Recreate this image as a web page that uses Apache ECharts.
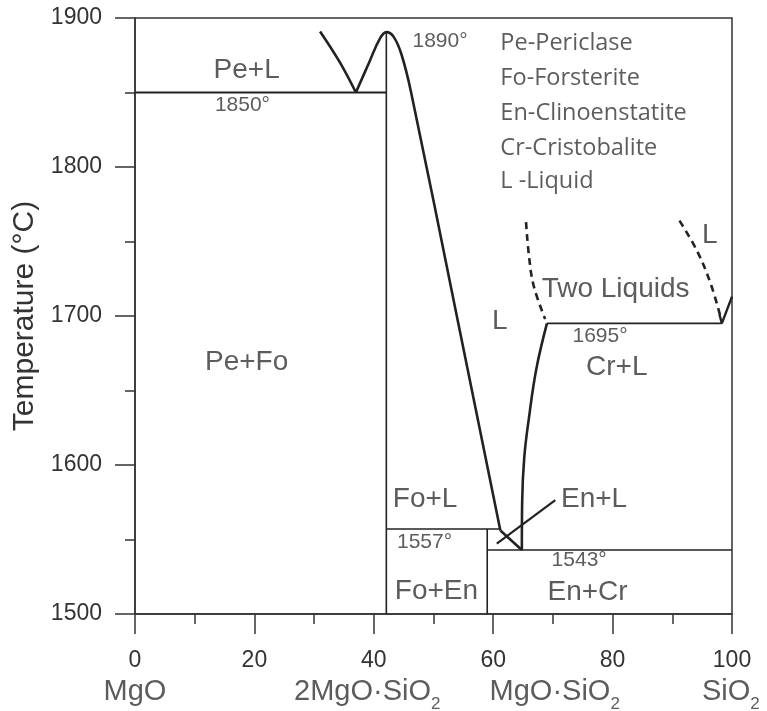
<!DOCTYPE html>
<html>
<head>
<meta charset="utf-8">
<script src="https://cdn.jsdelivr.net/npm/echarts@6/dist/echarts.min.js"></script>
<style>
    html, body { margin: 0; padding: 0; background: #fff; }
    #chart { width: 767px; height: 711px; }
</style>
</head>
<body>
<div id="chart"></div>
<script>
// phase boundaries, [wt% SiO2, temperature]
var peLiquidus = [[31, 1891], [34.2, 1871], [37, 1850]];
var foLiquidus = [[37, 1850], [39.2, 1870], [41, 1886], [42.1, 1890.5], [43.3, 1887.5],
    [44.6, 1876], [46.2, 1851], [53.7, 1704], [61.2, 1556]];
var enLiquidus = [[61.2, 1556], [64.8, 1543]];
var crLiquidus = [[64.8, 1543], [64.85, 1575], [65.2, 1605], [66, 1632], [67.2, 1664], [69, 1695]];
var crLiquidusHigh = [[97.9, 1701], [98.3, 1695], [100, 1713]];
var twoLiqLeft = [[65.5, 1763], [66, 1740], [66.8, 1720], [68.7, 1698]];
var twoLiqRight = [[91.2, 1764], [94.1, 1744], [96.4, 1722], [98.1, 1699]];

var line1850 = [[0, 1850], [42.1, 1850]];
var foVertical = [[42.1, 1500], [42.1, 1890.5]];
var line1557 = [[42.1, 1557], [61.2, 1557]];
var enVertical = [[59, 1500], [59, 1557]];
var line1543 = [[59, 1543], [100, 1543]];
var line1695 = [[69, 1695], [98.3, 1695]];
var enLPointer = [[60.6, 1547.3], [70.4, 1576.5]];

// text annotations
var regionNames = ['Pe+L', 'Pe+Fo', 'L', 'L', 'Two Liquids', 'Cr+L', 'Fo+L', 'En+L', 'Fo+En', 'En+Cr'];
var regionX = [18.7, 18.7, 61.1, 96.3, 80.5, 80.7, 48.6, 76.9, 50.5, 75.8];
var regionY = [1865, 1669, 1696.7, 1754, 1717.8, 1665.7, 1577, 1577, 1515.5, 1514.4];

var tempNames = ['1850°', '1890°', '1695°', '1557°', '1543°'];
var tempX = [18, 51.1, 77.9, 48.5, 74.4];
var tempY = [1841.7, 1884.3, 1686.4, 1548, 1536.2];

var keyNames = ['Pe-Periclase', 'Fo-Forsterite', 'En-Clinoenstatite', 'Cr-Cristobalite', 'L -Liquid'];
var keyX = 61.2;
var keyY = [1883, 1859.2, 1836.1, 1812.5, 1790.1];

var compNames = ['{m|MgO}', '{m|2MgO·SiO}{s|2}', '{m|MgO·SiO}{s|2}', '{m|SiO}{s|2}'];
var compX = [0, 38.9, 70.3, 99.8];

var FONT = 'Liberation Sans';
var INK = '#222';
var TXT = '#333';

function boundary(data, width, dashed, smooth) {
    return {
        type: 'line',
        data: data,
        symbol: 'none',
        smooth: smooth ? 0.4 : false,
        lineStyle: { color: INK, width: width, type: dashed ? [7, 5] : 'solid' },
        silent: true,
        z: 3
    };
}

function textSeries(names, xs, ys, size, align, family) {
    var data = [];
    for (var i = 0; i < names.length; i++) {
        data.push({ name: names[i], value: [Array.isArray(xs) ? xs[i] : xs, ys[i]] });
    }
    return {
        type: 'scatter',
        data: data,
        symbolSize: 0,
        silent: true,
        z: 5,
        label: {
            show: true,
            position: 'inside',
            formatter: '{b}',
            fontSize: size,
            fontFamily: family || FONT,
            color: TXT,
            align: align || 'center',
            verticalAlign: 'middle'
        }
    };
}

var compData = [];
for (var i = 0; i < compNames.length; i++) {
    compData.push({ name: compNames[i], value: [compX[i], 1500] });
}

var chart = echarts.init(document.getElementById('chart'));
chart.setOption({
    animation: false,
    grid: {
        left: 135, right: 35, top: 18, bottom: 97,
        show: true, borderColor: '#333', borderWidth: 1.5
    },
    xAxis: {
        type: 'value', min: 0, max: 100, interval: 20,
        axisLine: { lineStyle: { color: '#333', width: 1.5 } },
        axisTick: { show: true, length: 20, lineStyle: { color: '#333', width: 1.5 } },
        minorTick: { show: true, splitNumber: 2, length: 10, lineStyle: { color: '#333', width: 1.5 } },
        axisLabel: { margin: 35, fontSize: 23, fontFamily: FONT, color: TXT },
        splitLine: { show: false }
    },
    yAxis: {
        type: 'value', min: 1500, max: 1900, interval: 100,
        name: 'Temperature (°C)', nameLocation: 'middle', nameGap: 87,
        nameTextStyle: { fontSize: 30, fontFamily: FONT, color: TXT },
        axisLine: { lineStyle: { color: '#333', width: 1.5 } },
        axisTick: { show: true, length: 20, lineStyle: { color: '#333', width: 1.5 } },
        minorTick: { show: true, splitNumber: 2, length: 10, lineStyle: { color: '#333', width: 1.5 } },
        axisLabel: {
            margin: 33, fontSize: 23, fontFamily: FONT, color: TXT,
            formatter: function (v) { return String(v); }
        },
        splitLine: { show: false }
    },
    series: [
        boundary(peLiquidus, 2.6, false, true),
        boundary(foLiquidus, 2.6, false, true),
        boundary(enLiquidus, 2.6, false, false),
        boundary(crLiquidus, 2.6, false, true),
        boundary(crLiquidusHigh, 2.4, false, false),
        boundary(twoLiqLeft, 2.6, true, true),
        boundary(twoLiqRight, 2.6, true, true),
        boundary(line1850, 1.8),
        boundary(foVertical, 1.6),
        boundary(line1557, 1.6),
        boundary(enVertical, 1.6),
        boundary(line1543, 1.6),
        boundary(line1695, 1.8),
        boundary(enLPointer, 2.2),
        textSeries(regionNames, regionX, regionY, 28),
        textSeries(tempNames, tempX, tempY, 21),
        textSeries(keyNames, keyX, keyY, 23.5, 'left', 'Open Sans'),
        {
            type: 'scatter',
            data: compData,
            symbolSize: 0,
            silent: true,
            label: {
                show: true,
                position: 'inside',
                offset: [0, 80],
                formatter: '{b}',
                color: TXT,
                rich: {
                    m: { fontSize: 29, fontFamily: FONT, color: TXT, lineHeight: 34, verticalAlign: 'top' },
                    s: { fontSize: 17, fontFamily: FONT, color: TXT, lineHeight: 17, verticalAlign: 'top', padding: [19, 0, 0, 0] }
                }
            }
        }
    ]
});
</script>
</body>
</html>
